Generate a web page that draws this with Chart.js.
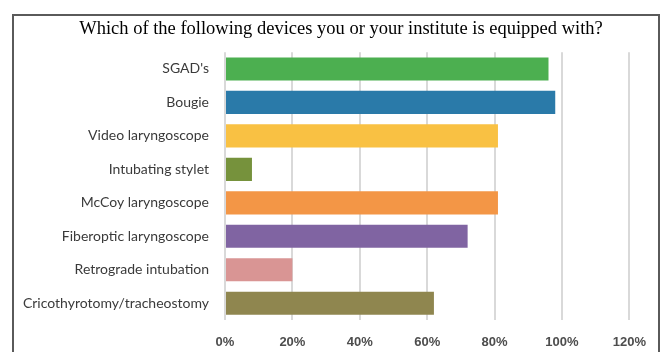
<!DOCTYPE html>
<html><head><meta charset="utf-8">
<script src="https://cdn.jsdelivr.net/npm/chart.js@4"></script>
<style>
html,body{margin:0;padding:0;background:#fff;}
#wrap{position:relative;width:661px;height:352px;}
#frame{position:absolute;left:12px;top:14px;width:644px;height:360px;border:2px solid #5a5a5a;border-bottom:none;pointer-events:none;}
</style></head>
<body>
<div id="wrap"><canvas id="c" width="661" height="352"></canvas><div id="frame"></div></div>
<script>
const categories = ["SGAD's","Bougie","Video laryngoscope","Intubating stylet","McCoy laryngoscope","Fiberoptic laryngoscope","Retrograde intubation","Cricothyrotomy/tracheostomy"];
const values = [96, 98, 81, 8, 81, 72, 20, 62];
const barColors = ["#4caf50","#2a7aa9","#f9c143","#76923c","#f39646","#8064a2","#d99594","#8f864f"];
const tickValues = [0,20,40,60,80,100,120];
const titleText = "Which of the following devices you or your institute is equipped with?";

const shiftTitle = {
  id: 'shiftTitle',
  afterLayout(chart) {
    const t = chart.titleBlock;
    if (t) { t.left = 21; t.right = 661; }
  }
};

new Chart(document.getElementById('c'), {
  type: 'bar',
  data: { labels: categories, datasets: [{ data: values, backgroundColor: barColors, borderWidth: 0, categoryPercentage: 1, barPercentage: 0.69 }] },
  options: {
    indexAxis: 'y', responsive: false, animation: false,
    layout: { padding: { left: 0, right: 30, top: 0, bottom: 0 } },
    plugins: {
      legend: { display: false }, tooltip: { enabled: false },
      title: { display: true, text: titleText, color: '#000', font: { family: 'Liberation Serif', size: 18.5, weight: 'normal' }, padding: { top: 18, bottom: 12 } }
    },
    scales: {
      x: {
        min: 0, max: 120,
        afterBuildTicks: s => { s.ticks = tickValues.map(v => ({ value: v })); },
        afterFit: s => { s.height = 32; },
        grid: { color: '#d9d9d9', lineWidth: 2, drawTicks: false },
        border: { display: false },
        ticks: { padding: 15, color: '#4d4d4d', font: { family: 'Liberation Sans', size: 13, weight: 'bold' }, callback: v => v + '%' }
      },
      y: {
        afterFit: s => { s.width = 225; },
        grid: { display: false, drawTicks: false },
        border: { display: false },
        ticks: { padding: 16, color: '#3a3a3a', font: { family: 'Lato', size: 14 } }
      }
    }
  },
  plugins: [shiftTitle]
});
</script>
</body></html>
